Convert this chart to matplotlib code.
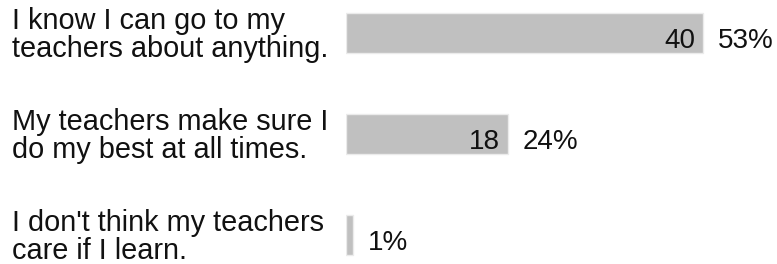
import matplotlib
matplotlib.use("Agg")
import matplotlib.pyplot as plt
import matplotlib.transforms as mtransforms

categories = [
    "I know I can go to my\nteachers about anything.",
    "My teachers make sure I\ndo my best at all times.",
    "I don't think my teachers\ncare if I learn.",
]
counts = [40, 18, 1]
percents = [53, 24, 1]
count_labels = ["40", "18", ""]
percent_labels = ["53%", "24%", "1%"]

W, H = 777, 264
fig = plt.figure(figsize=(W / 100, H / 100), dpi=100)
plt.rcParams['font.family'] = ['Liberation Sans', 'DejaVu Sans']

ax_left = 346 / W
ax = fig.add_axes([ax_left, 0, 1 - ax_left, 1])
ax.set_xlim(0, 64)
ax.set_ylim(2.287, -0.327)
ax.axis('off')

ys = list(range(len(categories)))
ax.barh(ys, percents, height=0.405, color='#c0c0c0', edgecolor='#ebebeb',
        linewidth=1.0)

fs = 20
off_in = mtransforms.offset_copy(ax.transData, fig=fig, x=-8 * 0.72, y=0, units='points')
off_out = mtransforms.offset_copy(ax.transData, fig=fig, x=15 * 0.72, y=0, units='points')
for y, p, cl, pl in zip(ys, percents, count_labels, percent_labels):
    if cl:
        ax.text(p, y + 0.08, cl, transform=off_in, ha='right', va='center',
                fontsize=fs, color='#111111')
    ax.text(p, y + 0.08, pl, transform=off_out, ha='left', va='center',
            fontsize=fs, color='#111111')

trans = mtransforms.blended_transform_factory(fig.transFigure, ax.transData)
for y, c in zip(ys, categories):
    ax.text(12 / W, y + 0.015, c, transform=trans, ha='left', va='center',
            fontsize=20.8, color='#111111', linespacing=1.0)

fig.savefig("out.png", dpi=100)
